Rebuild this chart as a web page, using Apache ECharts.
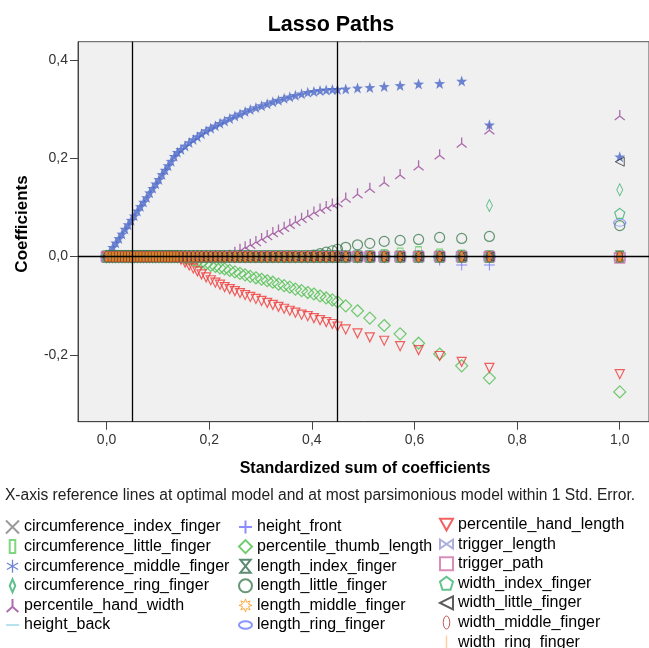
<!DOCTYPE html>
<html>
<head>
<meta charset="utf-8">
<script src="https://cdn.jsdelivr.net/npm/echarts@6/dist/echarts.min.js"></script>
<style>
  html, body { margin: 0; padding: 0; background: #fff; }
  #chart { width: 649px; height: 648px; }
</style>
</head>
<body>
<div id="chart"></div>
<script>
// standardized sum of coefficients at each step of the path
const steps = [
  0, 0.006, 0.012, 0.018, 0.024, 0.030, 0.036, 0.042, 0.048, 0.054, 0.060, 0.066, 0.072, 0.078, 0.084, 0.090, 0.096, 0.102, 0.108, 0.114, 0.120, 0.126, 0.132, 0.138,
  0.145, 0.153, 0.161, 0.169, 0.177, 0.185, 0.194, 0.203, 0.212, 0.221, 0.230, 0.240, 0.250, 0.260, 0.270, 0.280, 0.291, 0.302, 0.313, 0.324, 0.335, 0.346, 0.357, 0.368, 0.380, 0.392, 0.404, 0.416, 0.428, 0.440,
  0.450, 0.466, 0.489, 0.513, 0.541, 0.572, 0.608, 0.649, 0.692, 0.746, 1.0
];

const zeroPath = [
  0, 0, 0, 0, 0, 0, 0, 0, 0, 0, 0, 0, 0, 0, 0, 0, 0, 0, 0, 0, 0, 0, 0, 0,
  0, 0, 0, 0, 0, 0, 0, 0, 0, 0, 0, 0, 0, 0, 0, 0, 0, 0, 0, 0, 0, 0, 0, 0, 0, 0, 0, 0, 0, 0,
  0, 0, 0, 0, 0, 0, 0, 0, 0, 0, 0
];
const circLittle = [
  0, 0, 0, 0, 0, 0, 0, 0, 0, 0, 0, 0, 0, 0, 0, 0, 0, 0, 0, 0, 0, 0, 0, 0,
  0, 0, 0, 0, 0, 0, 0, 0, 0, 0, 0, 0, 0, 0, 0, 0, 0, 0, 0, 0, 0, 0, 0, 0, 0, 0, 0, 0, 0, 0,
  0, 0, 0, 0, 0.003, 0.006, 0.009, 0.004, 0.002, 0, 0
];
const circMiddle = [
  0, 0.009, 0.019, 0.028, 0.037, 0.046, 0.056, 0.065, 0.074, 0.083, 0.093, 0.102, 0.111, 0.120, 0.130, 0.139, 0.148, 0.157, 0.167, 0.176, 0.185, 0.194, 0.204, 0.212,
  0.218, 0.225, 0.232, 0.238, 0.244, 0.250, 0.256, 0.261, 0.266, 0.271, 0.276, 0.281, 0.286, 0.290, 0.295, 0.299, 0.303, 0.307, 0.311, 0.315, 0.318, 0.322, 0.325, 0.328, 0.331, 0.334, 0.336, 0.338, 0.339, 0.340,
  0.340, 0.341, 0.343, 0.344, 0.346, 0.348, 0.351, 0.352, 0.357, 0.268, 0.203
];
const circRing = [
  0, 0, 0, 0, 0, 0, 0, 0, 0, 0, 0, 0, 0, 0, 0, 0, 0, 0, 0, 0, 0, 0, 0, 0,
  0, 0, 0, 0, 0, 0, 0, 0, 0, 0, 0, 0, 0, 0, 0, 0, 0, 0, 0, 0, 0, 0, 0, 0, 0, 0, 0, 0, 0, 0,
  0, 0, 0, 0, 0, 0, 0, 0, 0, 0.104, 0.136
];
const handWidth = [
  0, 0, 0, 0, 0, 0, 0, 0, 0, 0, 0, 0, 0, 0, 0, 0, 0, 0, 0, 0, 0, 0, 0, 0,
  0, 0, 0, 0, 0, 0, 0, 0, 0, 0, 0, 0.004, 0.010, 0.016, 0.021, 0.026, 0.032, 0.038, 0.044, 0.050, 0.055, 0.061, 0.067, 0.073, 0.079, 0.085, 0.092, 0.098, 0.103, 0.108,
  0.111, 0.120, 0.129, 0.140, 0.153, 0.168, 0.186, 0.208, 0.232, 0.259, 0.288
];
const heightFront = [
  0, 0, 0, 0, 0, 0, 0, 0, 0, 0, 0, 0, 0, 0, 0, 0, 0, 0, 0, 0, 0, 0, 0, 0,
  0, 0, 0, 0, 0, 0, 0, 0, 0, 0, 0, 0, 0, 0, 0, 0, 0, 0, 0, 0, 0, 0, 0, 0, 0, 0, 0, 0, 0, 0,
  0, 0, 0, 0, 0, 0, 0, -0.007, -0.017, -0.017, 0
];
const thumbLength = [
  0, 0, 0, 0, 0, 0, 0, 0, 0, 0, 0, 0, 0, 0, 0, 0, 0, 0, 0, 0, 0, 0, 0, 0,
  -0.001, -0.003, -0.005, -0.007, -0.010, -0.012, -0.015, -0.018, -0.020, -0.023, -0.025, -0.028, -0.031, -0.034, -0.037, -0.040, -0.043, -0.046, -0.049, -0.052, -0.056, -0.059, -0.062, -0.066, -0.069, -0.073, -0.076, -0.080, -0.084, -0.088,
  -0.092, -0.100, -0.110, -0.125, -0.140, -0.157, -0.176, -0.198, -0.222, -0.247, -0.275
];
const lengthLittle = [
  0, 0, 0, 0, 0, 0, 0, 0, 0, 0, 0, 0, 0, 0, 0, 0, 0, 0, 0, 0, 0, 0, 0, 0,
  0, 0, 0, 0, 0, 0, 0, 0, 0, 0, 0, 0, 0, 0, 0, 0, 0, 0, 0, 0, 0, 0, 0, 0, 0, 0.001, 0.003, 0.006, 0.009, 0.012,
  0.015, 0.019, 0.024, 0.027, 0.031, 0.033, 0.035, 0.039, 0.037, 0.041, 0.063
];
const lengthRing = [
  0, 0, 0, 0, 0, 0, 0, 0, 0, 0, 0, 0, 0, 0, 0, 0, 0, 0, 0, 0, 0, 0, 0, 0,
  0, 0, 0, 0, 0, 0, 0, 0, 0, 0, 0, 0, 0, 0, 0, 0, 0, 0, 0, 0, 0, 0, 0, 0, 0, 0, 0, 0, 0, 0,
  0, 0, 0, 0, 0, 0, 0, 0, 0, 0, 0.069
];
const handLength = [
  0, 0, 0, 0, 0, 0, 0, 0, 0, 0, 0, 0, 0, 0, 0, 0, 0, 0, 0, 0, 0, 0, 0, 0,
  -0.006, -0.012, -0.018, -0.024, -0.030, -0.036, -0.042, -0.048, -0.053, -0.057, -0.062, -0.066, -0.070, -0.074, -0.078, -0.082, -0.086, -0.090, -0.094, -0.098, -0.102, -0.106, -0.110, -0.114, -0.118, -0.121, -0.125, -0.129, -0.133, -0.137,
  -0.142, -0.148, -0.156, -0.164, -0.171, -0.182, -0.190, -0.202, -0.214, -0.226, -0.239
];
const triggerPath = [
  0, 0, 0, 0, 0, 0, 0, 0, 0, 0, 0, 0, 0, 0, 0, 0, 0, 0, 0, 0, 0, 0, 0, 0,
  0, 0, 0, 0, 0, 0, 0, 0, 0, 0, 0, 0, 0, 0, 0, 0, 0, 0, 0, 0, 0, 0, 0, 0, 0, 0, 0, 0, 0, 0,
  0, 0, 0, 0, 0, 0, 0, 0, 0, 0, -0.003
];
const widthIndex = [
  0, 0, 0, 0, 0, 0, 0, 0, 0, 0, 0, 0, 0, 0, 0, 0, 0, 0, 0, 0, 0, 0, 0, 0,
  0, 0, 0, 0, 0, 0, 0, 0, 0, 0, 0, 0, 0, 0, 0, 0, 0, 0, 0, 0, 0, 0, 0, 0, 0, 0, 0, 0, 0, 0,
  0, 0, 0, 0, 0, 0, 0, 0, 0, 0, 0.088
];
const widthLittle = [
  0, 0, 0, 0, 0, 0, 0, 0, 0, 0, 0, 0, 0, 0, 0, 0, 0, 0, 0, 0, 0, 0, 0, 0,
  0, 0, 0, 0, 0, 0, 0, 0, 0, 0, 0, 0, 0, 0, 0, 0, 0, 0, 0, 0, 0, 0, 0, 0, 0, 0, 0, 0, 0, 0,
  0, 0, 0, 0, 0, 0, 0, 0, 0, 0, 0.193
];

const refLinesX = [0.048, 0.452];
const xTicks = [0, 0.2, 0.4, 0.6, 0.8, 1.0];
const yTicks = [-0.2, 0, 0.2, 0.4];

const FONT = '"Liberation Sans", Arial, sans-serif';

// marker shapes
const P = {
  cross: 'path://M0,0L10,10M10,0L0,10',
  plus: 'path://M5,0L5,10M0,5L10,5',
  star: 'path://M5,0L6.18,3.38L9.76,3.45L6.9,5.62L7.94,9.05L5,7L2.06,9.05L3.1,5.62L0.24,3.45L3.82,3.38Z',
  asterisk: 'path://M5,0L5,10M0.7,2.5L9.3,7.5M0.7,7.5L9.3,2.5',
  tri: 'path://M5,0L5,6M5,6L0.5,10M5,6L9.5,10',
  hourglass: 'path://M1,0L9,0L1,10L9,10Z',
  burst: 'path://M5,0L5.96,2.69L8.54,1.46L7.31,4.04L10,5L7.31,5.96L8.54,8.54L5.96,7.31L5,10L4.04,7.31L1.46,8.54L2.69,5.96L0,5L2.69,4.04L1.46,1.46L4.04,2.69Z',
  bowtie: 'path://M0,0L10,7L10,0L0,7Z',
  pentagon: 'path://M5,0L10,3.8L8.1,10L1.9,10L0,3.8Z',
  left: 'path://M0,5L10,0L10,10Z',
  down: 'path://M0,0L10,0L5,9Z',
  tallRect: 'path://M0,0L6,0L6,14L0,14Z',
  tallDiamond: 'path://M3,0L6,7L3,14L0,7Z',
  hBar: 'path://M0,0L14,0L14,1.5L0,1.5Z',
  vBar: 'path://M0,0L1.5,0L1.5,14L0,14Z',
  wideEllipse: 'path://M0,4A7,4 0 1 1 14,4A7,4 0 1 1 0,4Z',
  tallEllipse: 'path://M3,0A3,6 0 1 1 3,12A3,6 0 1 1 3,0Z'
};

function hollow(c, w) {
  return { color: 'rgba(0,0,0,0)', borderColor: c, borderWidth: w || 1 };
}
function solid(c) {
  return { color: c, borderWidth: 0 };
}

const seriesDefs = [
  { name: 'circumference_index_finger', vals: zeroPath, symbol: P.cross, size: 9, style: hollow('#7f7f7f') },
  { name: 'circumference_little_finger', vals: circLittle, symbol: 'rect', size: [6, 11], style: hollow('#5fcc5f'), icon: P.tallRect },
  { name: 'circumference_middle_finger', vals: circMiddle, symbol: P.star, size: 11, style: solid('#4a66c8'), icon: P.asterisk, iconStyle: hollow('#4a66c8', 1.3) },
  { name: 'circumference_ring_finger', vals: circRing, symbol: 'diamond', size: [6, 12], style: hollow('#36b070'), icon: P.tallDiamond },
  { name: 'percentile_hand_width', vals: handWidth, symbol: P.tri, size: 10, style: hollow('#9a4a9a', 1.3) },
  { name: 'height_back', vals: zeroPath, symbol: 'rect', size: [14, 1.5], style: solid('#7ccde0'), icon: P.hBar },
  { name: 'height_front', vals: heightFront, symbol: P.plus, size: 11, style: hollow('#7070ff') },
  { name: 'percentile_thumb_length', vals: thumbLength, symbol: 'diamond', size: 12, style: hollow('#4cbe4c', 1.2) },
  { name: 'length_index_finger', vals: zeroPath, symbol: P.hourglass, size: [8, 11], style: hollow('#2f6f4f') },
  { name: 'length_little_finger', vals: lengthLittle, symbol: 'circle', size: 10, style: hollow('#3d7d50', 1.2) },
  { name: 'length_middle_finger', vals: zeroPath, symbol: P.burst, size: 11, style: { color: '#f5870a', borderColor: '#e07800', borderWidth: 1 }, iconStyle: hollow('#ff9a1a') },
  { name: 'length_ring_finger', vals: lengthRing, symbol: 'circle', size: [12, 7], style: hollow('#6a7aff'), icon: P.wideEllipse },
  { name: 'percentile_hand_length', vals: handLength, symbol: P.down, size: 9, style: hollow('#f03a3a', 1.2) },
  { name: 'trigger_length', vals: zeroPath, symbol: P.bowtie, size: [11, 8], style: hollow('#9a9ad6') },
  { name: 'trigger_path', vals: triggerPath, symbol: 'rect', size: 10, style: hollow('#d070a8', 1.2) },
  { name: 'width_index_finger', vals: widthIndex, symbol: P.pentagon, size: 10, style: hollow('#3cb371', 1.2) },
  { name: 'width_little_finger', vals: widthLittle, symbol: P.left, size: 9, style: hollow('#333333') },
  { name: 'width_middle_finger', vals: zeroPath, symbol: 'circle', size: [6, 10], style: hollow('#8a2020'), icon: P.tallEllipse, iconStyle: hollow('#b03030') },
  { name: 'width_ring_finger', vals: zeroPath, symbol: 'rect', size: [2.5, 10], style: solid('#f59028'), icon: P.vBar, iconStyle: solid('#ffc080') }
];

const legendItems = seriesDefs.map(d => {
  const item = { name: d.name };
  if (d.icon) item.icon = d.icon;
  if (d.iconStyle) item.itemStyle = d.iconStyle;
  return item;
});

const series = seriesDefs.map(d => ({
  name: d.name,
  type: 'scatter',
  symbol: d.symbol,
  symbolSize: d.size,
  itemStyle: d.style,
  emphasis: { disabled: true },
  data: steps.map((x, i) => [x, d.vals[i]])
}));

// reference lines drawn over the markers
series.push({
  type: 'scatter',
  data: [],
  z: 10,
  silent: true,
  markLine: {
    silent: true,
    symbol: 'none',
    label: { show: false },
    lineStyle: { color: '#000', width: 1.3, type: 'solid' },
    data: [{ xAxis: refLinesX[0] }, { xAxis: refLinesX[1] }, { yAxis: 0 }]
  }
});

const legendBase = {
  orient: 'vertical',
  padding: 0,
  height: 170,
  itemWidth: 13,
  itemHeight: 13,
  itemGap: 3.6,
  selectedMode: false,
  textStyle: { fontSize: 16, color: '#000', fontFamily: FONT, lineHeight: 16 }
};

const chart = echarts.init(document.getElementById('chart'), null, { renderer: 'canvas' });
chart.setOption({
  animation: false,
  backgroundColor: '#fff',
  grid: {
    left: 78, right: -2, top: 41.7, bottom: 226.3,
    show: true, backgroundColor: '#f0f0f0', borderColor: '#555', borderWidth: 1
  },
  xAxis: {
    type: 'value', min: -0.0557, max: 1.057,
    splitLine: { show: false },
    axisLine: { show: true, onZero: false, lineStyle: { color: '#444' } },
    axisTick: { show: true, length: 8, customValues: xTicks, lineStyle: { color: '#444' } },
    axisLabel: {
      customValues: xTicks, margin: 11, fontSize: 14, color: '#333', fontFamily: FONT,
      formatter: v => v.toFixed(1).replace('.', ',')
    }
  },
  yAxis: {
    type: 'value', min: -0.3356, max: 0.437,
    splitLine: { show: false },
    axisLine: { show: true, onZero: false, lineStyle: { color: '#444' } },
    axisTick: { show: true, length: 8, customValues: yTicks, lineStyle: { color: '#444' } },
    axisLabel: {
      customValues: yTicks, margin: 10, fontSize: 14, color: '#333', fontFamily: FONT,
      formatter: v => v.toFixed(1).replace('.', ',')
    }
  },
  legend: [
    Object.assign({}, legendBase, { data: legendItems.slice(0, 6), left: 5, top: 519 }),
    Object.assign({}, legendBase, { data: legendItems.slice(6, 12), left: 238, top: 519 }),
    Object.assign({}, legendBase, { data: legendItems.slice(12), left: 439, top: 516.5 })
  ],
  graphic: [
    { type: 'text', x: 331, y: 25, style: { text: 'Lasso Paths', font: 'bold 21.5px ' + FONT, fill: '#000', align: 'center', verticalAlign: 'middle' } },
    { type: 'text', x: 365, y: 469, style: { text: 'Standardized sum of coefficients', font: 'bold 16px ' + FONT, fill: '#000', align: 'center', verticalAlign: 'middle' } },
    { type: 'text', x: 22, y: 224, rotation: Math.PI / 2, style: { text: 'Coefficients', font: 'bold 17px ' + FONT, fill: '#000', align: 'center', verticalAlign: 'middle' } },
    { type: 'text', x: 320, y: 496, style: { text: 'X-axis reference lines at optimal model and at most parsimonious model within 1 Std. Error.', font: '15.6px ' + FONT, fill: '#222', align: 'center', verticalAlign: 'middle' } }
  ],
  series: series
});
</script>
</body>
</html>
